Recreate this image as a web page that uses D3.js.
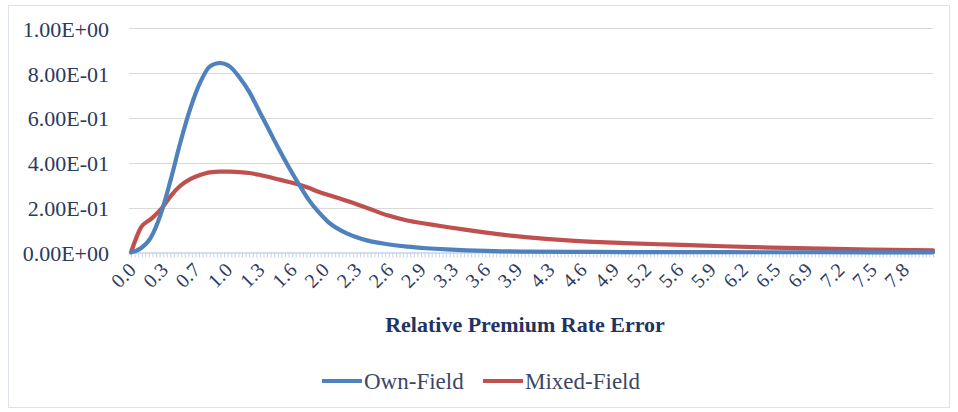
<!DOCTYPE html>
<html>
<head>
<meta charset="utf-8">
<script src="https://cdn.jsdelivr.net/npm/d3@7"></script>
<style>
  html, body { margin: 0; padding: 0; background: #ffffff; }
  svg { display: block; }
</style>
</head>
<body>
<svg id="chart" width="958" height="412"></svg>
<script>
// ---- data ----
const seriesNames = ["Own-Field", "Mixed-Field"];
const seriesColors = ["#4F81BD", "#C0504D"];

// x positions (relative premium rate error) at which the curves were read
const sampleX = [0, 0.1, 0.2, 0.3, 0.4, 0.5, 0.6, 0.7, 0.8, 0.9, 1.0, 1.1, 1.2, 1.3, 1.4, 1.5,
  1.6, 1.7, 1.8, 1.9, 2.0, 2.2, 2.4, 2.6, 2.8, 3.0, 3.2, 3.4, 3.6, 3.8, 4.0, 4.5, 5.0,
  5.5, 6.0, 6.5, 7.0, 7.5, 8.129];

const ownField = [0, 0.018, 0.065, 0.168, 0.32, 0.49, 0.64, 0.757, 0.83, 0.845, 0.83, 0.78,
  0.715, 0.63, 0.545, 0.46, 0.38, 0.305, 0.235, 0.18, 0.135, 0.082, 0.052, 0.036, 0.025,
  0.018, 0.013, 0.009, 0.006, 0.004, 0.003, 0.002, 0.001, 0.001, 0.0005, 0.0003, 0.0002,
  0.0001, 0];

const mixedField = [0, 0.11, 0.148, 0.19, 0.25, 0.297, 0.327, 0.345, 0.357, 0.36, 0.36,
  0.358, 0.354, 0.346, 0.336, 0.325, 0.314, 0.303, 0.288, 0.27, 0.256, 0.228, 0.197,
  0.165, 0.142, 0.127, 0.113, 0.1, 0.088, 0.077, 0.068, 0.051, 0.041, 0.034, 0.027,
  0.021, 0.016, 0.012, 0.009];

// category axis: one tick per category, a label every 9th category
const categoryStep = 0.03629;
const categoryCount = 225;
const labelEvery = 9;
const tickLabels = ["0.0", "0.3", "0.7", "1.0", "1.3", "1.6", "2.0", "2.3", "2.6", "2.9",
  "3.3", "3.6", "3.9", "4.3", "4.6", "4.9", "5.2", "5.6", "5.9", "6.2", "6.5", "6.9",
  "7.2", "7.5", "7.8"];

const yTicks = [0, 0.2, 0.4, 0.6, 0.8, 1.0];
const yTickLabels = ["0.00E+00", "2.00E-01", "4.00E-01", "6.00E-01", "8.00E-01", "1.00E+00"];
const xTitle = "Relative Premium Rate Error";

// ---- drawing ----
const svg = d3.select("#chart");
const serif = "'Liberation Serif', 'Times New Roman', serif";
const textColor = "#2c3a5e";

const plot = { left: 131, right: 933, top: 28.3, bottom: 252.3 };
const xMax = (categoryCount - 1) * categoryStep;
const x = d3.scaleLinear().domain([0, xMax]).range([plot.left, plot.right]);
const y = d3.scaleLinear().domain([0, 1]).range([plot.bottom, plot.top]);

// outer border
svg.append("rect")
  .attr("x", 8.5).attr("y", 5.5).attr("width", 941).attr("height", 402)
  .attr("fill", "#ffffff").attr("stroke", "#dde3ec").attr("stroke-width", 1);

// gridlines
svg.append("g")
  .selectAll("line")
  .data(yTicks.filter(d => d > 0))
  .join("line")
  .attr("x1", plot.left - 2).attr("x2", plot.right)
  .attr("y1", d => Math.round(y(d)) + 0.5).attr("y2", d => Math.round(y(d)) + 0.5)
  .attr("stroke", "#d9d9d9").attr("stroke-width", 1.2);

// y axis labels
const yAxis = d3.axisLeft(y).tickValues(yTicks)
  .tickFormat((d, i) => yTickLabels[i]).tickSize(0).tickPadding(0);
const yg = svg.append("g").attr("transform", `translate(${plot.left - 22},0)`).call(yAxis);
yg.attr("font-family", serif);
yg.select(".domain").remove();
yg.selectAll("text")
  .attr("font-family", serif).attr("font-size", 22).attr("fill", textColor)
  .attr("dy", "0.36em");

// x axis: minor ticks at every category
const catIndex = d3.range(categoryCount);
const xAxisMinor = d3.axisBottom(x)
  .tickValues(catIndex.map(i => i * categoryStep))
  .tickFormat("").tickSize(5).tickSizeOuter(0);
const xg = svg.append("g").attr("transform", `translate(0,${Math.round(plot.bottom) + 0.5})`).call(xAxisMinor);
xg.select(".domain").attr("stroke", "#c8d4e8").attr("stroke-width", 1.5);
xg.selectAll(".tick line").attr("stroke", "#c5d3ea").attr("stroke-width", 1);

// x labels every 9th category
const labelIdx = tickLabels.map((_, i) => i * labelEvery);
svg.append("g")
  .attr("font-family", serif)
  .selectAll("text")
  .data(labelIdx)
  .join("text")
  .attr("transform", (d) => `translate(${x(d * categoryStep) + 6},${plot.bottom + 19}) rotate(-45)`)
  .attr("text-anchor", "end")
  .attr("font-family", serif).attr("font-size", 20).attr("fill", textColor)
  .text((d, i) => tickLabels[i]);

// x title
svg.append("text")
  .attr("x", 525).attr("y", 332)
  .attr("text-anchor", "middle")
  .attr("font-family", serif).attr("font-size", 22).attr("font-weight", "bold")
  .attr("fill", "#1f3462")
  .text(xTitle);

// lines
const seriesData = [ownField, mixedField];
const line = d3.line()
  .x((d, i) => x(sampleX[i]))
  .y(d => y(d))
  .curve(d3.curveMonotoneX);

svg.append("g")
  .selectAll("path")
  .data([1, 0])
  .join("path")
  .attr("d", s => line(seriesData[s]))
  .attr("fill", "none")
  .attr("stroke", s => seriesColors[s])
  .attr("stroke-width", 4.2)
  .attr("stroke-linejoin", "round")
  .attr("stroke-linecap", "round");

// legend
const legendItems = [
  { name: seriesNames[0], color: seriesColors[0], x: 322 },
  { name: seriesNames[1], color: seriesColors[1], x: 483 }
];
const lg = svg.append("g").attr("font-family", serif);
legendItems.forEach(it => {
  lg.append("line")
    .attr("x1", it.x).attr("x2", it.x + 40)
    .attr("y1", 381).attr("y2", 381)
    .attr("stroke", it.color).attr("stroke-width", 4.2);
  lg.append("text")
    .attr("x", it.x + 42).attr("y", 381).attr("dy", "0.35em")
    .attr("font-family", serif).attr("font-size", 23).attr("fill", "#3a4767")
    .text(it.name);
});
</script>
</body>
</html>
